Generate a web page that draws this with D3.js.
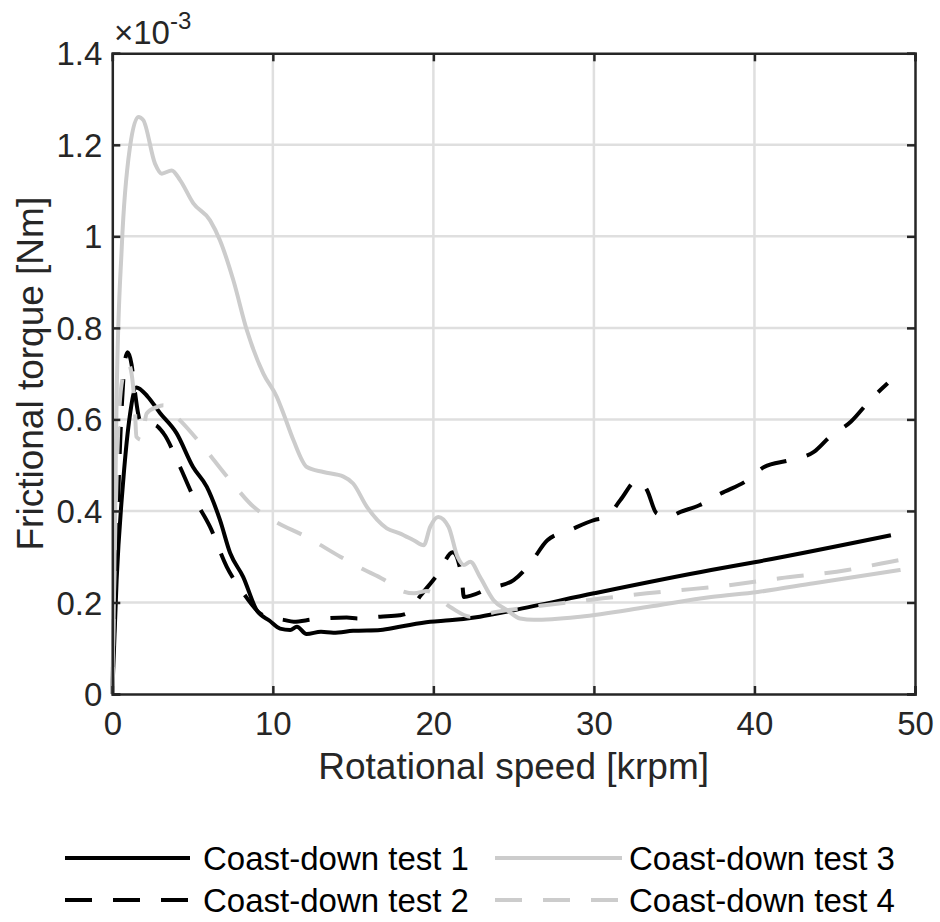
<!DOCTYPE html>
<html><head><meta charset="utf-8">
<script src="https://cdn.jsdelivr.net/npm/d3@7"></script>
<style>body{margin:0;background:#fff}svg{display:block}text{font-family:"Liberation Sans",Arial,sans-serif;fill:#262626}</style>
</head><body><svg id="c" width="940" height="922"></svg>
<script>
// Values in units of 1e-3 Nm, x in krpm
const test1X = [0,0.27,0.69,1.1,1.5,2.2,2.97,4.0,5.03,5.88,6.71,7.34,8.15,9.0,9.8,10.45,11.08,11.5,12.1,13.0,13.77,15.0,16.7,17.9,19.8,21,22.9,25.0,30.0,37.3,40,48.5];
const test1Y = [0,0.25,0.47,0.61,0.67,0.65,0.614,0.57,0.496,0.453,0.38,0.308,0.256,0.183,0.16,0.143,0.14,0.147,0.131,0.136,0.134,0.138,0.14,0.147,0.158,0.161,0.169,0.183,0.22,0.271,0.288,0.347];
const test2X = [0,0.25,0.55,0.8,0.96,1.2,1.41,1.7,2.14,2.6,3.18,4.22,5.05,6.09,7.13,8.17,9.2,10.0,10.66,11.3,12.5,14.6,15.3,16.7,17.9,18.35,19.2,20.3,21.2,21.75,21.9,23.5,25.0,26.05,27.1,28.5,30.0,30.8,31.65,32.7,33.3,33.9,34.6,35.4,36.6,37.9,39.55,40.6,42.2,43.7,44.7,46.0,47.2,48.3];
const test2Y = [0,0.3,0.6,0.73,0.747,0.72,0.66,0.6,0.584,0.588,0.57,0.496,0.431,0.365,0.278,0.22,0.176,0.165,0.162,0.158,0.163,0.167,0.165,0.169,0.172,0.176,0.215,0.263,0.31,0.26,0.212,0.231,0.249,0.286,0.336,0.358,0.38,0.387,0.424,0.467,0.446,0.395,0.387,0.398,0.413,0.438,0.467,0.496,0.511,0.529,0.562,0.595,0.642,0.679];
const test3X = [0,0.1,0.27,0.59,1.1,1.62,1.93,2.66,3.08,3.7,4.22,5.05,6.09,6.71,7.54,8.38,9.41,10.25,10.66,11.28,12.12,13.15,14.4,15.0,15.86,17.1,17.9,18.77,19.4,19.8,20.3,20.95,21.5,21.9,22.3,22.9,23.75,24.6,25.4,26.25,29.15,33.3,37.3,40.2,43.7,49.1];
const test3Y = [0,0.2,0.65,0.977,1.195,1.261,1.254,1.159,1.137,1.144,1.123,1.072,1.035,0.991,0.904,0.795,0.70,0.649,0.613,0.555,0.496,0.485,0.475,0.46,0.409,0.362,0.351,0.336,0.325,0.365,0.387,0.365,0.30,0.282,0.289,0.256,0.205,0.183,0.165,0.162,0.169,0.19,0.212,0.223,0.242,0.271];
const test4X = [0,0.15,0.4,0.7,1.0,1.2,1.41,1.5,1.83,2.14,2.77,3.18,4.22,5.67,7.34,8.8,10.0,12.1,14.2,15.6,16.9,17.9,18.8,19.6,21.05,22.3,24.0,26.05,29.6,33.3,35.4,37.5,41.6,45.8,47.9,49.1];
const test4Y = [0,0.3,0.6,0.7,0.722,0.70,0.62,0.562,0.555,0.613,0.627,0.631,0.598,0.54,0.467,0.409,0.38,0.343,0.30,0.273,0.25,0.227,0.22,0.225,0.19,0.169,0.18,0.19,0.205,0.22,0.227,0.234,0.253,0.271,0.285,0.293];
const seriesNames = ["Coast-down test 1","Coast-down test 2","Coast-down test 3","Coast-down test 4"];
const xTicks = [0,10,20,30,40,50];
const yTicks = [0,0.2,0.4,0.6,0.8,1,1.2,1.4];
const yTickLabels = ["0","0.2","0.4","0.6","0.8","1","1.2","1.4"];
const xLabel = "Rotational speed [krpm]";
const yLabel = "Frictional torque [Nm]";

const styles = [
  {color:"#000000", dash:null},
  {color:"#000000", dash:"27,21"},
  {color:"#cccccc", dash:null},
  {color:"#cccccc", dash:"27,21"}
];
const data = [[test1X,test1Y],[test2X,test2Y],[test3X,test3Y],[test4X,test4Y]]
  .map(([xs,ys]) => xs.map((x,i)=>({x, y: ys[i]})));

const L=112.3, R=915, T=53.3, B=694;
const svg = d3.select("#c");
const x = d3.scaleLinear().domain([0,50]).range([L,R]);
const y = d3.scaleLinear().domain([0,1.4]).range([B,T]);
const axisColor = "#262626";
const FONT = '"Liberation Sans",Arial,sans-serif';

// grid
const g = svg.append("g");
g.selectAll(".gx").data(xTicks.slice(1,-1)).enter().append("line")
  .attr("x1",d=>x(d)).attr("x2",d=>x(d)).attr("y1",T).attr("y2",B)
  .attr("stroke","#dfdfdf").attr("stroke-width",2.5);
g.selectAll(".gy").data(yTicks.slice(1,-1)).enter().append("line")
  .attr("y1",d=>y(d)).attr("y2",d=>y(d)).attr("x1",L).attr("x2",R)
  .attr("stroke","#dfdfdf").attr("stroke-width",2.5);

// lines
const line = d3.line().x(d=>x(d.x)).y(d=>y(d.y)).curve(d3.curveMonotoneX);
data.forEach((d,i)=>{
  svg.append("path").datum(d).attr("d",line).attr("fill","none")
    .attr("stroke",styles[i].color).attr("stroke-width",4)
    .attr("stroke-linejoin","round")
    .attr("stroke-dasharray",styles[i].dash);
});

// axes (box with inward ticks)
const tickLen = 8;
const axB = svg.append("g").attr("transform",`translate(0,${B})`)
  .call(d3.axisBottom(x).tickValues(xTicks).tickSize(-tickLen).tickPadding(18));
const axT = svg.append("g").attr("transform",`translate(0,${T})`)
  .call(d3.axisTop(x).tickValues(xTicks).tickSize(-tickLen).tickFormat(""));
const axL = svg.append("g").attr("transform",`translate(${L},0)`)
  .call(d3.axisLeft(y).tickValues(yTicks).tickSize(-tickLen).tickPadding(10).tickFormat((d,i)=>yTickLabels[i]));
const axR = svg.append("g").attr("transform",`translate(${R},0)`)
  .call(d3.axisRight(y).tickValues(yTicks).tickSize(-tickLen).tickFormat(""));
[axB,axT,axL,axR].forEach(a=>{
  a.select(".domain").attr("stroke",axisColor).attr("stroke-width",2.5);
  a.selectAll(".tick line").attr("stroke",axisColor).attr("stroke-width",2.5);
  a.selectAll(".tick text").attr("fill",axisColor).style("font-size","33px")
    .style("font-family",FONT);
});
axB.selectAll(".tick text").attr("dy","0.71em");
axL.selectAll(".tick text").attr("dy","0.35em");

// exponent
const ex = svg.append("text").attr("x",114).attr("y",44).style("font-size","33px");
ex.append("tspan").text("×10");
ex.append("tspan").attr("dy",-15).style("font-size","24px").text("-3");

// axis labels
svg.append("text").attr("x",(L+R)/2).attr("y",779).attr("text-anchor","middle")
  .style("font-size","37px").text(xLabel);
svg.append("text").attr("transform",`translate(43,${(T+B)/2}) rotate(-90)`)
  .attr("text-anchor","middle").style("font-size","37px").text(yLabel);

// legend
const legLines = [[65,190,858],[65,190,900],[495,622,858],[495,622,900]];
const legText = [[203,858],[203,900],[629,858],[629,900]];
seriesNames.forEach((n,i)=>{
  const [x1,x2,ly]=legLines[i];
  svg.append("line").attr("x1",x1).attr("x2",x2).attr("y1",ly).attr("y2",ly)
    .attr("stroke",styles[i].color).attr("stroke-width",4)
    .attr("stroke-dasharray",styles[i].dash);
  svg.append("text").attr("x",legText[i][0]).attr("y",legText[i][1]).attr("dy","0.35em")
    .style("font-size","33px").style("fill","#000").text(n);
});
</script></body></html>
